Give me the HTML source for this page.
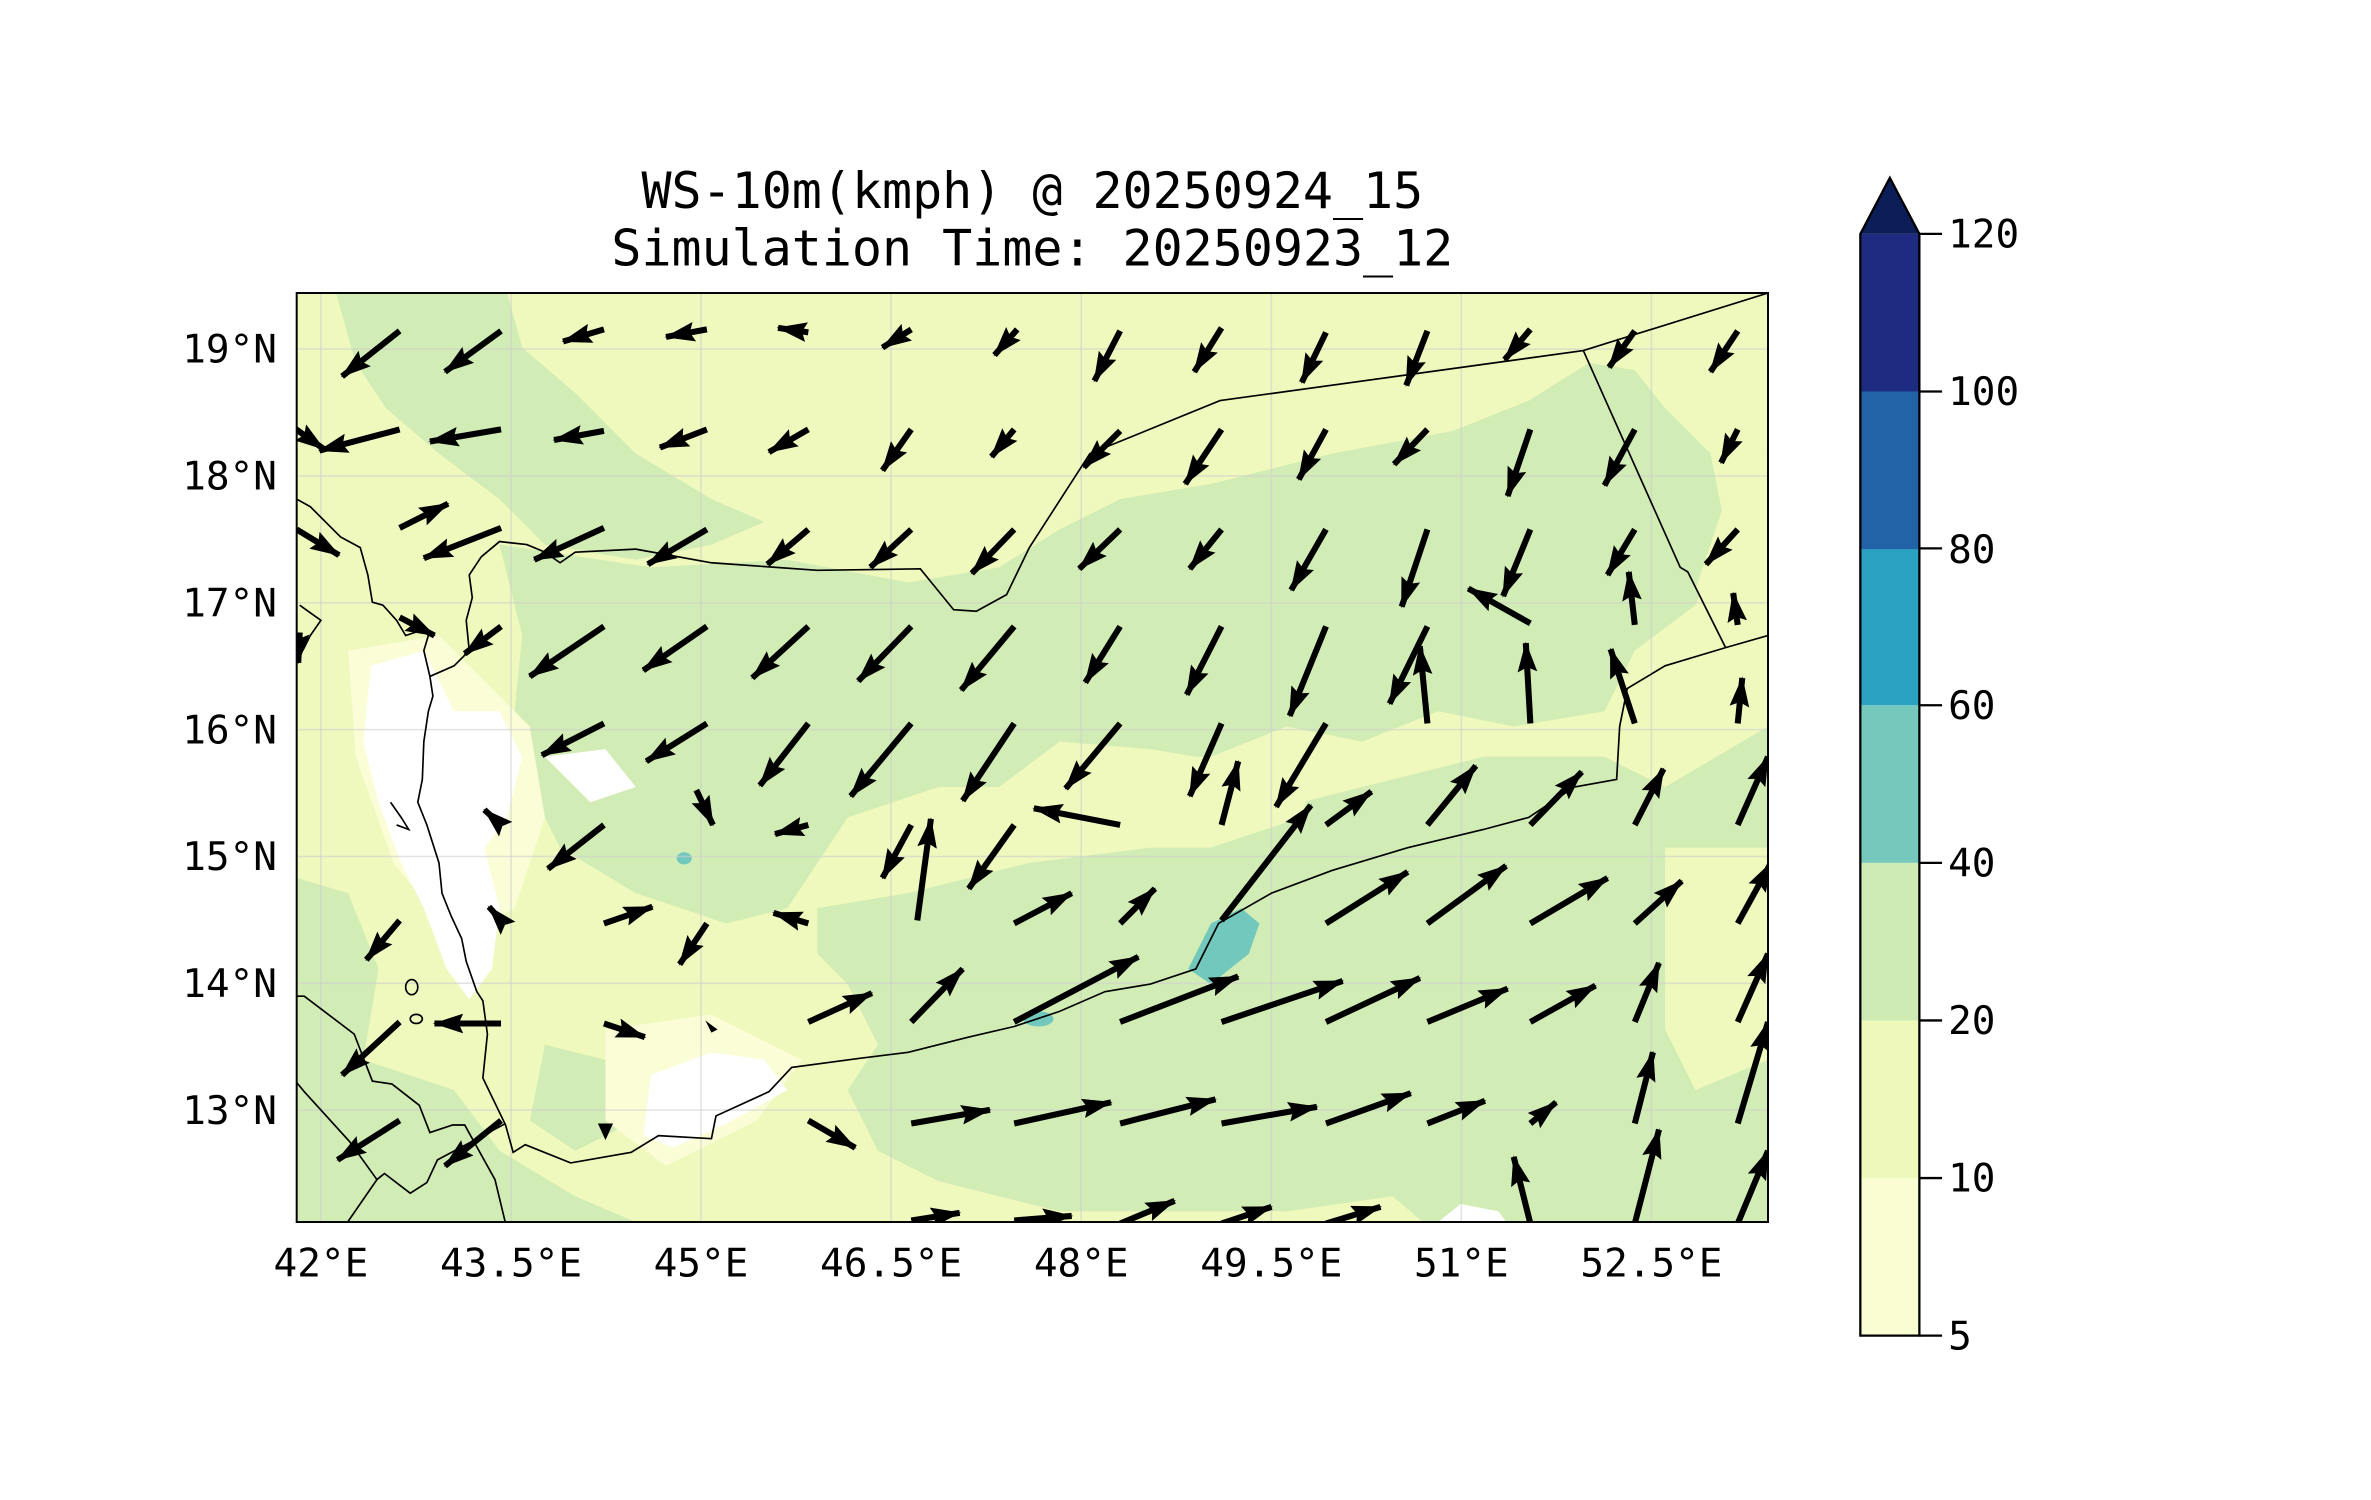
<!DOCTYPE html>
<html><head><meta charset="utf-8"><style>
html,body{margin:0;padding:0;background:#fff;}
svg{display:block;}
text{font-family:"DejaVu Sans Mono","Liberation Mono",monospace;fill:#000;}
</style></head><body>
<svg width="2371" height="1500" viewBox="0 0 2371 1500" xmlns="http://www.w3.org/2000/svg">
<defs>
<clipPath id="pc"><rect x="196" y="194" width="972" height="613"/></clipPath>
<marker id="ah" markerUnits="userSpaceOnUse" markerWidth="22" markerHeight="14" refX="19" refY="6.5" orient="auto" viewBox="0 0 22 14">
<path d="M0,0 L20,6.5 L0,13 L3,6.5 z" fill="#000"/>
</marker>
</defs>
<g transform="translate(0,-1.0) scale(1.5137,1.5155)">
<text x="682" y="138" font-size="33" text-anchor="middle">WS-10m(kmph) @ 20250924_15</text>
<text x="682" y="176" font-size="33" text-anchor="middle">Simulation Time: 20250923_12</text>

<g clip-path="url(#pc)">
<rect x="196" y="194" width="972" height="613" fill="#eff8bd"/>
<g fill="#d1ecb4">
<polygon points="222,194 335,194 345,230 380,260 420,300 470,330 505,345 470,360 420,370 360,360 330,330 290,300 255,270 235,240"/>
<polygon points="330,360 430,375 520,370 600,385 660,375 700,350 740,330 800,320 880,300 960,285 1010,265 1050,240 1080,245 1100,270 1130,300 1140,350 1120,400 1080,430 1060,470 1000,480 950,470 900,490 850,480 800,500 760,500 700,490 660,520 620,520 560,540 520,600 480,610 420,590 370,560 350,520 340,470 345,420"/>
<polygon points="540,600 600,590 680,570 760,560 820,540 900,520 980,500 1060,500 1100,520 1168,480 1168,807 940,807 920,790 850,800 780,800 700,800 620,780 580,760 560,720 580,690 560,650 540,630"/>
<polygon points="196,580 230,590 250,640 240,700 210,720 196,720"/>
<polygon points="196,720 240,700 300,720 330,760 380,790 420,807 196,807"/>
<polygon points="360,690 400,700 420,740 380,760 350,740"/>
</g>
<g fill="#eff8bd">
<polygon points="1100,560 1168,560 1168,700 1120,720 1100,680"/>
<polygon points="700,490 760,495 820,505 870,500 860,540 800,560 740,560 700,540"/>
<polygon points="1150,300 1168,300 1168,420 1140,428 1120,390"/>
</g>
<g fill="#fafdd6">
<polygon points="230,430 290,420 320,450 350,480 360,540 340,600 300,620 260,570 235,500"/>
<polygon points="400,680 470,670 530,700 500,740 440,770 400,740"/>
</g>
<g fill="#ffffff">
<polygon points="245,440 280,430 300,470 330,470 345,500 335,540 320,560 330,600 325,640 310,660 295,640 280,600 265,570 250,530 240,490"/>
<polygon points="430,710 470,695 505,700 520,720 480,742 445,758 425,750"/>
<polygon points="950,807 965,795 990,800 995,807"/>
<polygon points="360,500 400,495 420,520 390,530"/>
</g>
<g fill="#72c8bd">
<polygon points="785,640 800,610 820,600 832,610 825,630 800,650"/>
<ellipse cx="686" cy="673" rx="10" ry="5"/>
<ellipse cx="452" cy="567" rx="5" ry="4"/>
</g>
<g stroke="#cfcfcf" stroke-opacity="0.6" stroke-width="1">
<line x1="212" y1="194" x2="212" y2="807"/><line x1="337.6" y1="194" x2="337.6" y2="807"/>
<line x1="463.1" y1="194" x2="463.1" y2="807"/><line x1="588.7" y1="194" x2="588.7" y2="807"/>
<line x1="714.3" y1="194" x2="714.3" y2="807"/><line x1="839.9" y1="194" x2="839.9" y2="807"/>
<line x1="965.4" y1="194" x2="965.4" y2="807"/><line x1="1091" y1="194" x2="1091" y2="807"/>
<line x1="196" y1="231" x2="1168" y2="231"/><line x1="196" y1="314.7" x2="1168" y2="314.7"/>
<line x1="196" y1="398.4" x2="1168" y2="398.4"/><line x1="196" y1="482.1" x2="1168" y2="482.1"/>
<line x1="196" y1="565.8" x2="1168" y2="565.8"/><line x1="196" y1="649.5" x2="1168" y2="649.5"/>
<line x1="196" y1="733.2" x2="1168" y2="733.2"/>
</g>
<g fill="none" stroke="#000" stroke-width="1.1">
<polyline points="196,330 205,335 215,345 225,355 238,362 243,380 246,398 253,400 262,410 268,420 280,416 283,420 280,430 284,447 286,460 283,470 280,490 279,515 276,530 282,545 290,570 292,590 298,605 305,620 308,635 315,655 319,661 322,683 319,712 334,743 339,761 347,756 377,768 417,761 435,750 470,752 473,737 508,721 523,705 568,699 600,695 640,685 670,678 700,668 730,655 760,650 790,640 805,610 840,590 880,575 930,560 980,548 1010,540 1040,520 1068,515 1070,480 1075,455 1100,440 1140,428 1168,420"/>
<polyline points="284,447 300,440 310,430 308,410 312,395 310,380 318,368 330,358 348,360 360,365 370,372 380,365 420,363 470,372 540,377 608,376 630,403 645,404 665,393 680,362 720,300 806,265 1046,232 1168,194"/>
<polyline points="1046,232 1110,375 1115,378 1140,428"/>
<polyline points="196,658 201,658 234,683 246,714 259,716 277,730 284,748 299,743 307,743 327,779 334,808"/>
<polyline points="196,715 201,721 231,754 249,779 229,808"/>
<polyline points="249,779 254,775 271,788 282,781 289,766 334,742"/>
<ellipse cx="275" cy="673" rx="4" ry="3"/>
<ellipse cx="272" cy="652" rx="4" ry="5"/>
<polyline points="258,530 265,540 270,548 262,545"/>
<polyline points="198,400 205,405 212,410 205,420 200,430"/>
</g>
<g stroke="#000" stroke-width="4" marker-end="url(#ah)" fill="none">
<line x1="264" y1="219" x2="226" y2="249"/><line x1="331" y1="219" x2="294" y2="246"/>
<line x1="399" y1="218" x2="372" y2="226"/><line x1="467" y1="218" x2="440" y2="223"/>
<line x1="534" y1="220" x2="514" y2="217"/><line x1="602" y1="218" x2="583" y2="230"/>
<line x1="672" y1="218" x2="657" y2="235"/><line x1="740" y1="219" x2="723" y2="252"/>
<line x1="807" y1="217" x2="789" y2="246"/><line x1="876" y1="220" x2="860" y2="253"/>
<line x1="943" y1="219" x2="929" y2="255"/><line x1="1011" y1="218" x2="994" y2="238"/>
<line x1="1080" y1="219" x2="1063" y2="243"/><line x1="1148" y1="219" x2="1130" y2="246"/>
<line x1="190" y1="280" x2="214" y2="297"/><line x1="264" y1="284" x2="211" y2="298"/>
<line x1="331" y1="284" x2="284" y2="292"/><line x1="399" y1="285" x2="366" y2="291"/>
<line x1="467" y1="284" x2="436" y2="296"/><line x1="534" y1="284" x2="508" y2="299"/>
<line x1="602" y1="284" x2="583" y2="311"/><line x1="670" y1="284" x2="655" y2="302"/>
<line x1="740" y1="285" x2="716" y2="309"/><line x1="807" y1="284" x2="783" y2="320"/>
<line x1="876" y1="284" x2="858" y2="317"/><line x1="943" y1="284" x2="921" y2="307"/>
<line x1="1011" y1="284" x2="996" y2="328"/><line x1="1080" y1="284" x2="1060" y2="321"/>
<line x1="1148" y1="284" x2="1137" y2="306"/>
<line x1="264" y1="349" x2="296" y2="333"/><line x1="196" y1="350" x2="224" y2="367"/>
<line x1="331" y1="349" x2="280" y2="369"/><line x1="399" y1="349" x2="353" y2="370"/>
<line x1="467" y1="350" x2="428" y2="373"/><line x1="534" y1="350" x2="507" y2="373"/>
<line x1="602" y1="350" x2="575" y2="375"/><line x1="670" y1="350" x2="642" y2="379"/>
<line x1="740" y1="350" x2="713" y2="376"/><line x1="807" y1="350" x2="786" y2="376"/>
<line x1="876" y1="350" x2="853" y2="390"/><line x1="943" y1="350" x2="926" y2="401"/>
<line x1="1011" y1="350" x2="993" y2="394"/><line x1="1080" y1="350" x2="1062" y2="380"/>
<line x1="1148" y1="350" x2="1127" y2="373"/>
<line x1="198" y1="418" x2="197" y2="438"/><line x1="264" y1="408" x2="287" y2="420"/>
<line x1="331" y1="414" x2="307" y2="432"/><line x1="399" y1="414" x2="350" y2="447"/>
<line x1="467" y1="414" x2="425" y2="443"/><line x1="534" y1="414" x2="497" y2="448"/>
<line x1="602" y1="414" x2="567" y2="450"/><line x1="670" y1="414" x2="635" y2="456"/>
<line x1="740" y1="414" x2="717" y2="451"/><line x1="807" y1="414" x2="784" y2="459"/>
<line x1="876" y1="414" x2="852" y2="473"/><line x1="943" y1="414" x2="918" y2="465"/>
<line x1="1011" y1="412" x2="970" y2="389"/><line x1="1080" y1="413" x2="1076" y2="378"/>
<line x1="1148" y1="413" x2="1145" y2="392"/>
<line x1="399" y1="478" x2="358" y2="499"/><line x1="467" y1="478" x2="427" y2="503"/>
<line x1="534" y1="478" x2="502" y2="519"/><line x1="602" y1="478" x2="562" y2="526"/>
<line x1="670" y1="478" x2="636" y2="529"/><line x1="740" y1="478" x2="704" y2="521"/>
<line x1="807" y1="478" x2="786" y2="526"/><line x1="876" y1="478" x2="843" y2="533"/>
<line x1="943" y1="478" x2="938" y2="427"/><line x1="1011" y1="478" x2="1008" y2="425"/>
<line x1="1080" y1="478" x2="1064" y2="429"/><line x1="1148" y1="478" x2="1151" y2="448"/>
<line x1="331" y1="545" x2="320" y2="535"/><line x1="399" y1="545" x2="362" y2="574"/>
<line x1="460" y1="522" x2="471" y2="545"/><line x1="534" y1="545" x2="512" y2="551"/>
<line x1="602" y1="545" x2="583" y2="580"/><line x1="606" y1="608" x2="615" y2="541"/>
<line x1="670" y1="545" x2="640" y2="587"/><line x1="740" y1="545" x2="683" y2="534"/>
<line x1="807" y1="545" x2="818" y2="503"/><line x1="876" y1="545" x2="906" y2="523"/>
<line x1="943" y1="545" x2="975" y2="506"/><line x1="1011" y1="545" x2="1045" y2="510"/>
<line x1="1080" y1="545" x2="1099" y2="508"/><line x1="1148" y1="545" x2="1168" y2="500"/>
<line x1="807" y1="608" x2="866" y2="532"/>
<line x1="264" y1="608" x2="242" y2="634"/><line x1="331" y1="608" x2="323" y2="599"/>
<line x1="399" y1="610" x2="431" y2="599"/><line x1="467" y1="610" x2="449" y2="637"/>
<line x1="534" y1="610" x2="511" y2="603"/><line x1="670" y1="610" x2="708" y2="590"/>
<line x1="740" y1="610" x2="763" y2="587"/><line x1="876" y1="610" x2="930" y2="576"/>
<line x1="943" y1="610" x2="995" y2="572"/><line x1="1011" y1="610" x2="1062" y2="580"/>
<line x1="1080" y1="610" x2="1111" y2="582"/><line x1="1148" y1="610" x2="1170" y2="570"/>
<line x1="264" y1="675" x2="226" y2="710"/><line x1="331" y1="676" x2="287" y2="676"/>
<line x1="399" y1="676" x2="426" y2="685"/><line x1="534" y1="675" x2="576" y2="656"/>
<line x1="602" y1="675" x2="636" y2="640"/><line x1="670" y1="675" x2="752" y2="632"/>
<line x1="740" y1="675" x2="818" y2="645"/><line x1="807" y1="675" x2="887" y2="648"/>
<line x1="876" y1="675" x2="938" y2="646"/><line x1="943" y1="675" x2="996" y2="653"/>
<line x1="1011" y1="675" x2="1054" y2="651"/><line x1="1080" y1="675" x2="1096" y2="636"/>
<line x1="1148" y1="675" x2="1168" y2="630"/>
<line x1="264" y1="740" x2="223" y2="766"/><line x1="331" y1="740" x2="294" y2="770"/>
<line x1="534" y1="740" x2="565" y2="758"/><line x1="602" y1="742" x2="654" y2="733"/>
<line x1="670" y1="742" x2="734" y2="728"/><line x1="740" y1="742" x2="803" y2="726"/>
<line x1="807" y1="742" x2="870" y2="731"/><line x1="876" y1="742" x2="932" y2="722"/>
<line x1="943" y1="742" x2="981" y2="727"/><line x1="1011" y1="742" x2="1028" y2="728"/>
<line x1="1080" y1="742" x2="1092" y2="695"/><line x1="1148" y1="742" x2="1168" y2="675"/>
<line x1="1011" y1="808" x2="1000" y2="764"/><line x1="1080" y1="808" x2="1096" y2="746"/>
<line x1="1148" y1="808" x2="1168" y2="760"/>
<line x1="602" y1="806" x2="634" y2="801"/><line x1="670" y1="806" x2="708" y2="803"/>
<line x1="740" y1="808" x2="776" y2="793"/><line x1="807" y1="808" x2="840" y2="797"/>
<line x1="876" y1="808" x2="912" y2="797"/>
</g>
<g fill="#000">
<polygon points="395,742 405,742 400,753"/>
<polygon points="466,674 474,680 470,682"/>
</g>
</g>
<rect x="196" y="194" width="972" height="613" fill="none" stroke="#000" stroke-width="1.3"/>

<g font-size="26">
<text x="183" y="240" text-anchor="end">19°N</text>
<text x="183" y="323.7" text-anchor="end">18°N</text>
<text x="183" y="407.4" text-anchor="end">17°N</text>
<text x="183" y="491.1" text-anchor="end">16°N</text>
<text x="183" y="574.8" text-anchor="end">15°N</text>
<text x="183" y="658.5" text-anchor="end">14°N</text>
<text x="183" y="742.2" text-anchor="end">13°N</text>
<text x="212" y="843" text-anchor="middle">42°E</text>
<text x="337.6" y="843" text-anchor="middle">43.5°E</text>
<text x="463.1" y="843" text-anchor="middle">45°E</text>
<text x="588.7" y="843" text-anchor="middle">46.5°E</text>
<text x="714.3" y="843" text-anchor="middle">48°E</text>
<text x="839.9" y="843" text-anchor="middle">49.5°E</text>
<text x="965.4" y="843" text-anchor="middle">51°E</text>
<text x="1091" y="843" text-anchor="middle">52.5°E</text>
</g>

<g>
<rect x="1229" y="778" width="39" height="104" fill="#fafdd1"/>
<rect x="1229" y="674" width="39" height="104" fill="#eef8bb"/>
<rect x="1229" y="570" width="39" height="104" fill="#cfebb4"/>
<rect x="1229" y="466" width="39" height="104" fill="#74c8bc"/>
<rect x="1229" y="362" width="39" height="104" fill="#2ca2c2"/>
<rect x="1229" y="259" width="39" height="104" fill="#2263a8"/>
<rect x="1229" y="155" width="39" height="104" fill="#1d2c80"/>
<polygon points="1229,155 1248.5,118 1268,155" fill="#0b1e58"/>
<polygon points="1229,155 1248.5,118 1268,155 1268,882 1229,882" fill="none" stroke="#000" stroke-width="1.5"/>
<g stroke="#000" stroke-width="1.5">
<line x1="1268" y1="155" x2="1283" y2="155"/><line x1="1268" y1="259" x2="1283" y2="259"/>
<line x1="1268" y1="362.5" x2="1283" y2="362.5"/><line x1="1268" y1="466" x2="1283" y2="466"/>
<line x1="1268" y1="570" x2="1283" y2="570"/><line x1="1268" y1="674" x2="1283" y2="674"/>
<line x1="1268" y1="778" x2="1283" y2="778"/><line x1="1268" y1="882" x2="1283" y2="882"/>
</g>
<g font-size="26">
<text x="1287" y="164">120</text><text x="1287" y="268">100</text>
<text x="1287" y="372">80</text><text x="1287" y="475">60</text>
<text x="1287" y="579">40</text><text x="1287" y="683">20</text>
<text x="1287" y="787">10</text><text x="1287" y="891">5</text>
</g>
</g>
</g>
</svg>
</body></html>
